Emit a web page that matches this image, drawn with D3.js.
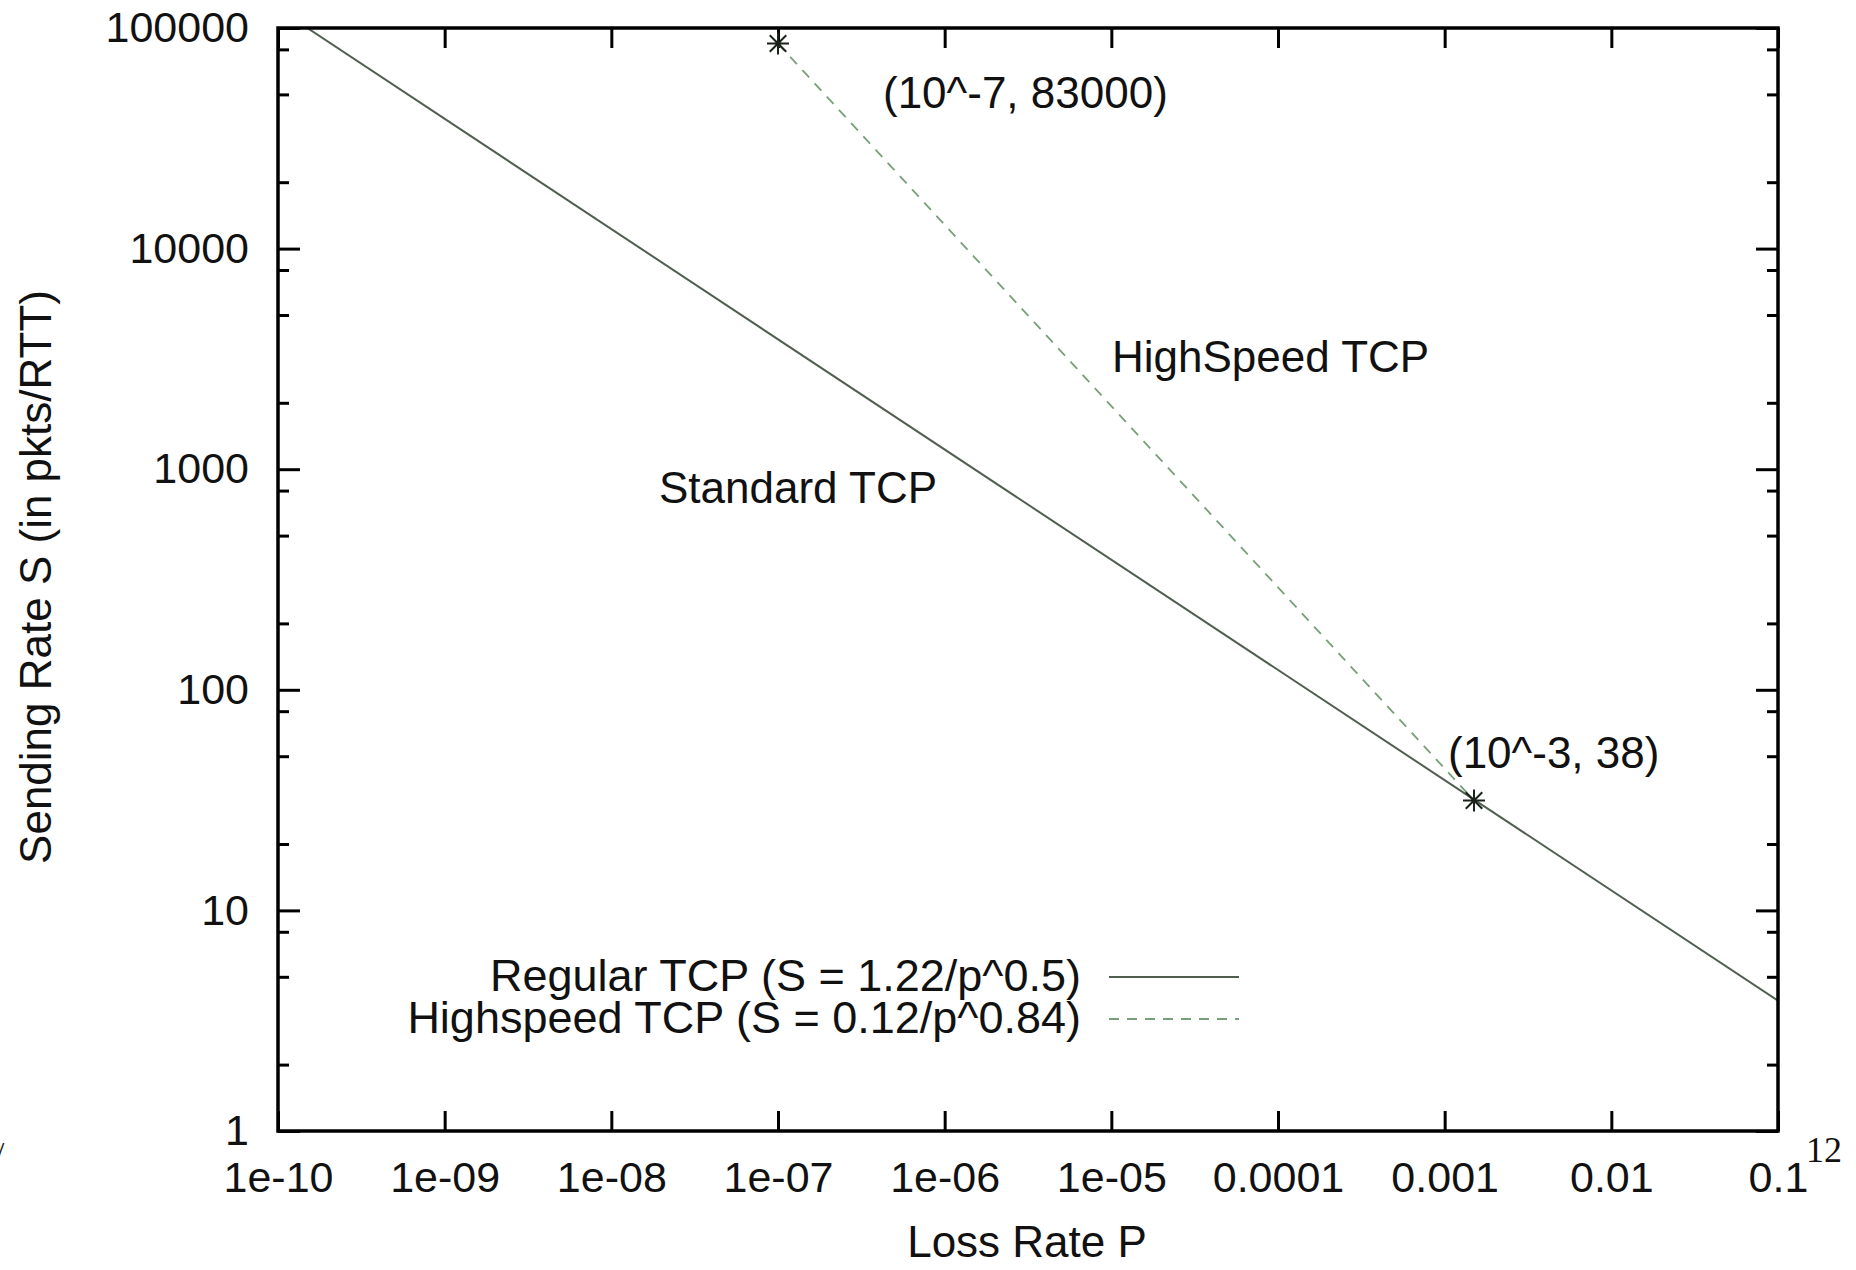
<!DOCTYPE html>
<html>
<head>
<meta charset="utf-8">
<script src="https://cdn.jsdelivr.net/npm/d3@7"></script>
<style>
  html, body { margin: 0; padding: 0; background: #fff; }
  svg { display: block; }
  text { font-family: "Liberation Sans", Arial, Helvetica, sans-serif; fill: #111; }
</style>
</head>
<body>
<svg id="chart" width="1856" height="1270"></svg>
<script>
// ---- data ----
const xTickValues = [1e-10, 1e-9, 1e-8, 1e-7, 1e-6, 1e-5, 1e-4, 1e-3, 1e-2, 1e-1];
const xTickLabels = ["1e-10", "1e-09", "1e-08", "1e-07", "1e-06", "1e-05", "0.0001", "0.001", "0.01", "0.1"];
const yTickValues = [1, 10, 100, 1000, 10000, 100000];
const yTickLabels = ["1", "10", "100", "1000", "10000", "100000"];
const yMinorMultipliers = [2, 5, 8];

// Regular TCP (S = 1.22/p^0.5): endpoints
const regularP = [1.5e-10, 0.1];
const regularS = [100000, 3.9];
// Highspeed TCP (S = 0.12/p^0.84): endpoints
const highspeedP = [1e-7, 0.0015];
const highspeedS = [85000, 31.5];
// marked points
const markerP = [1e-7, 0.0015];
const markerS = [85000, 31.5];
const markerLabels = ["(10^-7, 83000)", "(10^-3, 38)"];

const legendLabels = ["Regular TCP (S = 1.22/p^0.5)", "Highspeed TCP (S = 0.12/p^0.84)"];

// ---- layout ----
const svg = d3.select("#chart");
const L = 278, R = 1778, T = 28, B = 1131;
const FS = 44;
const TFS = 43;
const regularColor = "#505e50";
const highColor = "#78a078";

const x = d3.scaleLog().domain([1e-10, 0.1]).range([L, R]);
const y = d3.scaleLog().domain([1, 100000]).range([B, T]);

const yMinor = [];
yTickValues.slice(0, -1).forEach(d => yMinorMultipliers.forEach(m => yMinor.push(d * m)));

function styleAxis(g) {
  g.select(".domain").remove();
  g.selectAll(".tick line").attr("stroke", "#000").attr("stroke-width", 3);
  g.selectAll(".tick text").attr("font-size", TFS).attr("fill", "#111")
    .style("font-family", '"Liberation Sans", Arial, sans-serif');
}

// bottom axis
svg.append("g").attr("transform", `translate(0,${B})`)
  .call(d3.axisBottom(x).tickValues(xTickValues)
    .tickFormat((d, i) => xTickLabels[i]).tickSizeInner(-20).tickSizeOuter(0).tickPadding(30))
  .call(styleAxis);
// top axis
svg.append("g").attr("transform", `translate(0,${T})`)
  .call(d3.axisTop(x).tickValues(xTickValues).tickFormat("").tickSizeInner(-20).tickSizeOuter(0))
  .call(styleAxis);
// left axis
svg.append("g").attr("transform", `translate(${L},0)`)
  .call(d3.axisLeft(y).tickValues(yTickValues)
    .tickFormat((d, i) => yTickLabels[i]).tickSizeInner(-22).tickSizeOuter(0).tickPadding(29))
  .call(styleAxis);
svg.append("g").attr("transform", `translate(${L},0)`)
  .call(d3.axisLeft(y).tickValues(yMinor).tickFormat("").tickSizeInner(-11).tickSizeOuter(0))
  .call(styleAxis);
// right axis
svg.append("g").attr("transform", `translate(${R},0)`)
  .call(d3.axisRight(y).tickValues(yTickValues).tickFormat("").tickSizeInner(-22).tickSizeOuter(0))
  .call(styleAxis);
svg.append("g").attr("transform", `translate(${R},0)`)
  .call(d3.axisRight(y).tickValues(yMinor).tickFormat("").tickSizeInner(-11).tickSizeOuter(0))
  .call(styleAxis);

// clip
svg.append("clipPath").attr("id", "plotclip")
  .append("rect").attr("x", L).attr("y", T).attr("width", R - L).attr("height", B - T);

const line = d3.line().x(d => x(d[0])).y(d => y(d[1]));
const plot = svg.append("g").attr("clip-path", "url(#plotclip)");

plot.append("path")
  .datum(regularP.map((p, i) => [p, regularS[i]]))
  .attr("d", line).attr("fill", "none")
  .attr("stroke", regularColor).attr("stroke-width", 2);

plot.append("path")
  .datum(highspeedP.map((p, i) => [p, highspeedS[i]]))
  .attr("d", line).attr("fill", "none")
  .attr("stroke", highColor).attr("stroke-width", 1.8)
  .attr("stroke-dasharray", "10,8");

// frame
svg.append("rect").attr("x", L).attr("y", T).attr("width", R - L).attr("height", B - T)
  .attr("fill", "none").attr("stroke", "#000").attr("stroke-width", 3.5);

// star markers
const star = (cx, cy, r) =>
  `M${cx - r},${cy}L${cx + r},${cy}M${cx},${cy - r}L${cx},${cy + r}` +
  `M${cx - r * 0.75},${cy - r * 0.75}L${cx + r * 0.75},${cy + r * 0.75}` +
  `M${cx - r * 0.75},${cy + r * 0.75}L${cx + r * 0.75},${cy - r * 0.75}`;
const labelOffsets = [[105, 64], [-26, -32]];
markerP.forEach((p, i) => {
  const cx = x(p), cy = y(markerS[i]);
  svg.append("path").attr("d", star(cx, cy, 11))
    .attr("stroke", "#1a221a").attr("stroke-width", 2).attr("fill", "none");
  svg.append("text").attr("x", cx + labelOffsets[i][0]).attr("y", cy + labelOffsets[i][1])
    .attr("font-size", FS).text(markerLabels[i]);
});

// free labels
svg.append("text").attr("x", 659).attr("y", 503).attr("font-size", FS).text("Standard TCP");
svg.append("text").attr("x", 1112).attr("y", 372).attr("font-size", FS).text("HighSpeed TCP");

// legend
const legendY = [991, 1033];
legendLabels.forEach((lab, i) => {
  svg.append("text").attr("x", 1081).attr("y", legendY[i]).attr("text-anchor", "end")
    .attr("font-size", 45).text(lab);
  svg.append("line").attr("x1", 1109).attr("x2", 1239)
    .attr("y1", legendY[i] - 14).attr("y2", legendY[i] - 14)
    .attr("stroke", i === 0 ? regularColor : highColor)
    .attr("stroke-width", i === 0 ? 2 : 1.8)
    .attr("stroke-dasharray", i === 0 ? null : "10,8");
});

// axis titles
svg.append("text").attr("x", 1027).attr("y", 1257).attr("text-anchor", "middle")
  .attr("font-size", FS).text("Loss Rate P");
svg.append("text").attr("transform", "translate(51,577) rotate(-90)")
  .attr("text-anchor", "middle").attr("font-size", FS).text("Sending Rate S (in pkts/RTT)");

// slide artifacts
svg.append("text").attr("x", 1806).attr("y", 1162)
  .style("font-family", '"Liberation Serif", "Times New Roman", serif')
  .attr("font-size", 36).text("12");
svg.append("text").attr("x", -4).attr("y", 1162)
  .style("font-family", '"Liberation Serif", "Times New Roman", serif')
  .attr("font-size", 30).attr("fill", "#333").text("/");
</script>
</body>
</html>
